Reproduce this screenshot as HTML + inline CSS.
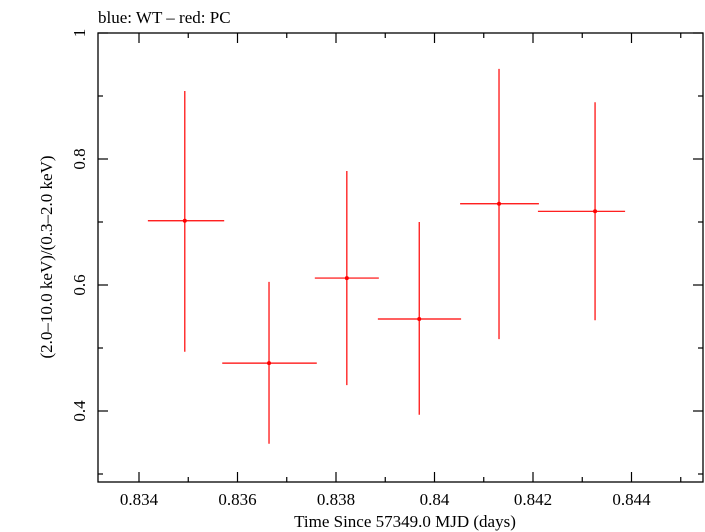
<!DOCTYPE html>
<html><head><meta charset="utf-8"><style>
body{margin:0;background:#fff}
svg{display:block;font-family:"Liberation Serif",serif}
</style></head><body>
<svg width="705" height="532" viewBox="0 0 705 532">
<text x="98" y="23" font-size="17">blue: WT – red: PC</text>
<rect x="98" y="33" width="605" height="449" fill="none" stroke="#000" stroke-width="1.3"/>
<g id="axes"></g>
<g id="marks"></g>
<text x="405" y="527" font-size="17" text-anchor="middle">Time Since 57349.0 MJD (days)</text>
<text transform="translate(52,257) rotate(-90)" font-size="17" text-anchor="middle">(2.0–10.0 keV)/(0.3–2.0 keV)</text>
</svg>
<script>
const times=[0.83493,0.83664,0.83822,0.83969,0.84131,0.84326];
const tLo=[0.83418,0.83569,0.83757,0.83885,0.84052,0.8421];
const tHi=[0.83573,0.83761,0.83887,0.84054,0.84212,0.84387];
const ratio=[0.702,0.476,0.611,0.546,0.729,0.717];
const rLo=[0.494,0.348,0.441,0.394,0.514,0.544];
const rHi=[0.908,0.605,0.781,0.700,0.943,0.890];
const xTicks=[0.834,0.836,0.838,0.84,0.842,0.844];
const xTickLabels=["0.834","0.836","0.838","0.84","0.842","0.844"];
const yTicks=[0.4,0.6,0.8,1];
const yTickLabels=["0.4","0.6","0.8","1"];
const X0=98,X1=703,Y0=33,Y1=482;
const xs=v=>139+(v-0.834)*49250;
const ys=v=>33+(1-v)*630;
const NS="http://www.w3.org/2000/svg";
function mk(tag,attrs,parent){const e=document.createElementNS(NS,tag);for(const k in attrs)e.setAttribute(k,attrs[k]);parent.appendChild(e);return e;}
const ax=document.getElementById('axes'),mg=document.getElementById('marks');
for(let v=0.833;v<=0.8455;v+=0.001){const x=xs(v);if(x<X0+1||x>X1-1)continue;
 const major=Math.abs(Math.round(v*1000)%2)===0;const L=major?10:5;
 const t1=mk('line',{x1:x,x2:x,y1:Y1,y2:Y1-L,stroke:'#000','stroke-width':1.2},ax);
 
 
 const t2=mk('line',{x1:x,x2:x,y1:Y0,y2:Y0+L,stroke:'#000','stroke-width':1.2},ax);
 
 }
xTicks.forEach((v,i)=>{const t=mk('text',{x:xs(v),y:505,'font-size':17,'text-anchor':'middle'},ax);t.textContent=xTickLabels[i];
 
 });
for(let k=3;k<=10;k++){const v=k/10;const y=ys(v);if(y>Y1-1)continue;const major=k%2===0;const L=major?10:5;
 const t1=mk('line',{x1:X0,x2:X0+L,y1:y,y2:y,stroke:'#000','stroke-width':1.2},ax);
 
 
 const t2=mk('line',{x1:X1,x2:X1-L,y1:y,y2:y,stroke:'#000','stroke-width':1.2},ax);
 
 }
yTicks.forEach((v,i)=>{const y=ys(v);const t=mk('text',{transform:`translate(85,${y}) rotate(-90)`,'font-size':17,'text-anchor':'middle'},ax);t.textContent=yTickLabels[i];
 
 });
times.forEach((t,i)=>{const g=mk('g',{},mg);
 
 
 mk('line',{x1:xs(tLo[i]),x2:xs(tHi[i]),y1:ys(ratio[i]),y2:ys(ratio[i]),stroke:'#f00','stroke-width':1.2},g);
 mk('line',{x1:xs(t),x2:xs(t),y1:ys(rLo[i]),y2:ys(rHi[i]),stroke:'#f00','stroke-width':1.2},g);
 mk('circle',{cx:xs(t),cy:ys(ratio[i]),r:2,fill:'#f00'},g);});
</script>
</body></html>
